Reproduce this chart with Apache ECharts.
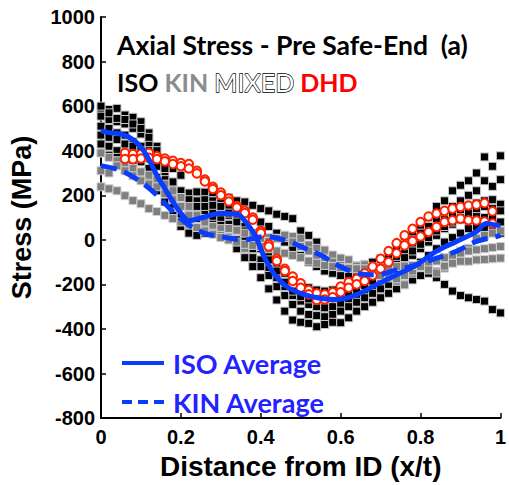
<!DOCTYPE html>
<html>
<head>
<meta charset="utf-8">
<script src="https://cdn.jsdelivr.net/npm/echarts@6/dist/echarts.min.js"></script>
<style>
  html, body { margin: 0; padding: 0; background: #fff; }
  #chart { width: 509px; height: 485px; }
</style>
</head>
<body>
<div id="chart"></div>
<script>
// Through-wall positions (x/t) shared by the scatter curves
const xs = [0, 0.02, 0.04, 0.06, 0.08, 0.10, 0.12, 0.14, 0.16, 0.18,
            0.20, 0.22, 0.24, 0.26, 0.28, 0.30, 0.32, 0.34, 0.36, 0.38,
            0.40, 0.42, 0.44, 0.46, 0.48, 0.50, 0.52, 0.54, 0.56, 0.58,
            0.60, 0.62, 0.64, 0.66, 0.68, 0.70, 0.72, 0.74, 0.76, 0.78,
            0.80, 0.82, 0.84, 0.86, 0.88, 0.90, 0.92, 0.94, 0.96, 0.98, 1.0];

// ISO hardening results (MPa), one array per analysis
const isoA = [590, 585, 590, 560, 550, 530, 480, 420, 360, 320,
              290, 210, 215, 214, 212, 205, 190, 175, 170, 155,
              140, 130, 115, 105, 95, 40, 20, -10, -50, -80,
              -100, -110, -115, -110, -100, -85, -60, -30, -10, 20,
              50, 100, 150, 175, 220, 245, 265, 300, 372, 330, 377];
const isoB = [555, 540, 530, 520, 500, 475, 430, 380, 300, 250,
              200, 160, 175, 180, 175, 165, 150, 140, 120, 100,
              80, 60, 30, -10, -40, -70, -100, -120, -140, -150,
              -160, -155, -150, -140, -120, -100, -70, -40, -20, 0,
              30, 60, 90, 120, 150, 175, 200, 220, 265, 240, 270];
const isoC = [510, 500, 480, 470, 440, 420, 400, 350, 250, 200,
              160, 130, 120, 130, 135, 125, 110, 90, 60, 30,
              -20, -70, -110, -150, -180, -200, -215, -225, -230, -225,
              -220, -210, -195, -180, -160, -140, -120, -90, -60, -30,
              0, 30, 60, 90, 110, 130, 150, 165, 175, 180, 160];
const isoD = [470, 460, 450, 430, 420, 400, 370, 330, 270, 200,
              150, 100, 90, 95, 100, 90, 70, 40, 0, -40,
              -90, -130, -170, -210, -250, -275, -290, -300, -305, -300,
              -290, -280, -260, -240, -215, -190, -160, -130, -100, -70,
              -40, -10, 20, 50, 70, 90, 100, 110, 100, 95, 80];
const isoE = [430, 420, 400, 390, 370, 350, 320, 280, 220, 160,
              100, 60, 50, 60, 70, 65, 40, 0, -40, -80,
              -120, -160, -210, -250, -290, -320, -335, -340, -345, -335,
              -320, -300, -280, -260, -240, -220, -200, -175, -150, -120,
              -100, -70, -40, -10, 10, 30, 50, 60, 50, 40, 30];
const isoF = [390, 380, 370, 350, 330, 300, 260, 220, 170, 110,
              60, 30, 20, 30, 40, 30, 0, -40, -80, -120,
              -170, -220, -270, -320, -360, -370, -375, -390, -380, -370,
              -372, -350, -320, -300, -280, -260, -240, -220, -200, -180,
              -160, -150, -170, -200, -230, -250, -260, -268, -275, -313, -328];
const isoG = [600, 570, 545, 540, 520, 500, 460, 400, 320, 260,
              220, 180, 150, 150, 155, 150, 120, 80, 40, 10,
              -40, -90, -140, -190, -230, -255, -265, -270, -265, -260,
              -250, -240, -225, -205, -185, -165, -140, -110, -80, -50,
              -20, 10, 40, 60, 80, 100, 120, 140, 150, 140, 130];

// KIN hardening results (MPa)
const kinA = [390, 370, 355, 340, 320, 305, 290, 270, 250, 220,
              190, 150, 110, 80, 60, 50, 45, 40, 30, 20,
              15, 10, 5, 10, 15, 7, -23, -38, -46, -68,
              -82, -90, -118, -112, -149, -180, -171, -186, -202, -150,
              -112, -96, -141, -127, -82, -51, -38, 7, 20, 30, 40];
const kinB = [310, 300, 332, 310, 287, 265, 250, 238, 207, 180,
              150, 110, 60, 40, 30, 20, 51, 43, -38, 21,
              7, -7, 7, 21, -10, -30, -50, -70, -90, -100,
              -115, -125, -130, -140, -150, -160, -165, -175, -160, -140,
              -125, -110, -95, -80, -70, -60, -50, -45, -40, -35, -30];
const kinC = [238, 229, 220, 198, 176, 162, 140, 127, 110, 95,
              80, 70, 55, 40, 25, 10, 0, -10, -20, -25,
              -30, -40, -50, -60, -70, -80, -95, -105, -115, -120,
              -125, -128, -130, -130, -128, -125, -122, -120, -118, -115,
              -120, -135, -149, -118, -105, -96, -96, -90, -88, -85, -82];

// DHD results (MPa), sampled from x/t = 0.06 to 0.98
const dhdXs = xs.slice(3, 50);
const dhdA = [390, 385, 385, 390, 375, 365, 355, 345, 340, 310,
              270, 238, 212, 185, 152, 130, 100, 40, -20, -85,
              -130, -165, -195, -225, -240, -245, -235, -210, -190, -175,
              -150, -120, -85, -50, -15, 20, 50, 80, 105, 118,
              130, 140, 148, 154, 158, 165, 128];
const dhdB = [363, 362, 365, 368, 362, 352, 340, 330, 320, 298,
              262, 228, 200, 172, 145, 120, 90, 30, -30, -95,
              -140, -185, -215, -245, -270, -268, -258, -235, -215, -200,
              -185, -160, -130, -100, -60, -25, -5, 15, 35, 58,
              80, 88, 95, 88, 87, 82, 73];

// Averaged profiles (MPa)
const isoAvgXs = [0, 0.025, 0.05, 0.075, 0.10, 0.12, 0.14, 0.16, 0.18, 0.20,
                  0.22, 0.25, 0.30, 0.34, 0.36, 0.385, 0.41, 0.435, 0.47, 0.51,
                  0.545, 0.59, 0.64, 0.69, 0.74, 0.79, 0.84, 0.89, 0.94, 0.965, 0.99, 1.0];
const isoAvg = [489, 480, 475, 455, 416, 360, 289, 230, 171, 120,
                86, 98, 118, 116, 85, 21, -82, -157, -216, -246,
                -261, -268, -246, -201, -157, -112, -51, -7, 37, 73, 66, 65];
const kinAvgXs = [0, 0.05, 0.10, 0.14, 0.18, 0.22, 0.26, 0.30, 0.36, 0.41,
                  0.47, 0.51, 0.55, 0.59, 0.64, 0.69, 0.74, 0.79, 0.84, 0.89,
                  0.94, 0.99, 1.0];
const kinAvg = [333, 311, 260, 200, 127, 66, 29, 15, 0, 15,
                -7, -38, -68, -112, -149, -157, -135, -112, -82, -51,
                -7, 15, 20];

const yTicks = { min: -800, max: 1000, step: 200 };
const xTicks = { min: 0, max: 1, step: 0.2 };
const legendNames = ['ISO Average', 'KIN Average'];

const pairs = (px, py) => py.map((v, i) => [px[i], v]);

const labelFont = { fontFamily: 'Liberation Sans', fontWeight: 'bold', color: '#000' };
const avgBlue = '#0a3cff';
const textBlue = '#2323ff';
const kinDash = [16, 8];

function squareSeries(values, fill, edge) {
  return {
    type: 'scatter',
    data: pairs(xs, values),
    symbol: 'rect',
    symbolSize: 8,
    itemStyle: { color: fill, borderColor: edge, borderWidth: 1, opacity: 1 },
    emphasis: { disabled: true },
    silent: true,
    z: 2
  };
}

function circleSeries(values) {
  return {
    type: 'scatter',
    data: pairs(dhdXs, values),
    symbol: 'circle',
    symbolSize: 8.5,
    itemStyle: { color: '#ffffff', borderColor: '#ff2200', borderWidth: 2, opacity: 1 },
    emphasis: { disabled: true },
    silent: true,
    z: 3
  };
}

const isoSets = [isoA, isoB, isoC, isoD, isoE, isoF, isoG];
const kinSets = [kinA, kinB, kinC];

const series = [];
isoSets.forEach(s => series.push(squareSeries(s, '#000000', '#c8c8c8')));
kinSets.forEach(s => series.push(squareSeries(s, '#7f7f7f', '#d0d0d0')));
series.push(circleSeries(dhdA));
series.push(circleSeries(dhdB));
series.push({
  name: legendNames[0],
  type: 'line',
  data: pairs(isoAvgXs, isoAvg),
  smooth: 0.35,
  symbol: 'none',
  lineStyle: { color: avgBlue, width: 5 },
  z: 5
});
series.push({
  name: legendNames[1],
  type: 'line',
  data: pairs(kinAvgXs, kinAvg),
  smooth: 0.35,
  symbol: 'none',
  lineStyle: { color: avgBlue, width: 5, type: kinDash },
  z: 5
});

// Key for the two averaged curves, bottom-left of the plot
const keyText = { fontFamily: 'Lato', fontWeight: 'bold', fontSize: 27, fill: textBlue };
const graphic = [
  { type: 'line', shape: { x1: 122, y1: 363, x2: 164, y2: 363 },
    style: { stroke: avgBlue, lineWidth: 4 }, silent: true },
  { type: 'text', x: 173, y: 363,
    style: Object.assign({ text: legendNames[0], verticalAlign: 'middle' }, keyText), silent: true },
  { type: 'line', shape: { x1: 122, y1: 402, x2: 164, y2: 402 },
    style: { stroke: avgBlue, lineWidth: 4, lineDash: [10, 6] }, silent: true },
  { type: 'text', x: 173, y: 402,
    style: Object.assign({ text: legendNames[1], verticalAlign: 'middle' }, keyText), silent: true }
];

const chart = echarts.init(document.getElementById('chart'), null, { renderer: 'svg' });
chart.setOption({
  animation: false,
  backgroundColor: '#ffffff',
  title: {
    text: 'Axial Stress - Pre Safe-End  (a)',
    subtext: '{iso|ISO} {kin|KIN} {mix|MIXED} {dhd|DHD}',
    left: 112,
    top: 26,
    itemGap: 11,
    textStyle: { fontFamily: 'Lato', fontWeight: 'bold', fontSize: 26.5, color: '#000' },
    subtextStyle: {
      fontFamily: 'Lato', fontWeight: 'bold', fontSize: 25, color: '#000',
      rich: {
        iso: { fontFamily: 'Lato', fontWeight: 'bold', fontSize: 25, color: '#000' },
        kin: { fontFamily: 'Lato', fontWeight: 'bold', fontSize: 25, color: '#8c8c8c' },
        mix: { fontFamily: 'Lato', fontWeight: 'normal', fontSize: 25, color: '#ffffff',
               textBorderColor: '#000', textBorderWidth: 1.3 },
        dhd: { fontFamily: 'Lato', fontWeight: 'bold', fontSize: 25, color: '#ff0000' }
      }
    }
  },
  graphic: graphic,
  grid: { left: 100, right: 4, top: 17, bottom: 64, containLabel: false },
  xAxis: {
    type: 'value',
    min: xTicks.min, max: xTicks.max, interval: xTicks.step,
    name: 'Distance from ID (x/t)',
    nameLocation: 'middle',
    nameGap: 27,
    nameTextStyle: { fontFamily: 'Liberation Sans', fontWeight: 'bold', fontSize: 28, color: '#000' },
    axisLine: { onZero: false, lineStyle: { color: '#000', width: 2 } },
    axisTick: { inside: true, length: 5, lineStyle: { color: '#000', width: 1.5 } },
    axisLabel: Object.assign({ fontSize: 20, margin: 9, formatter: v => String(v) }, labelFont),
    splitLine: { show: false }
  },
  yAxis: {
    type: 'value',
    min: yTicks.min, max: yTicks.max, interval: yTicks.step,
    name: 'Stress (MPa)',
    nameLocation: 'middle',
    nameGap: 66,
    nameTextStyle: { fontFamily: 'Liberation Sans', fontWeight: 'bold', fontSize: 27, color: '#000' },
    axisLine: { show: true, onZero: false, lineStyle: { color: '#000', width: 2 } },
    axisTick: { show: true, inside: true, length: 5, lineStyle: { color: '#000', width: 1.5 } },
    axisLabel: Object.assign({ fontSize: 20, margin: 6, formatter: v => String(v) }, labelFont),
    splitLine: { show: false }
  },
  series: series
});
</script>
</body>
</html>
